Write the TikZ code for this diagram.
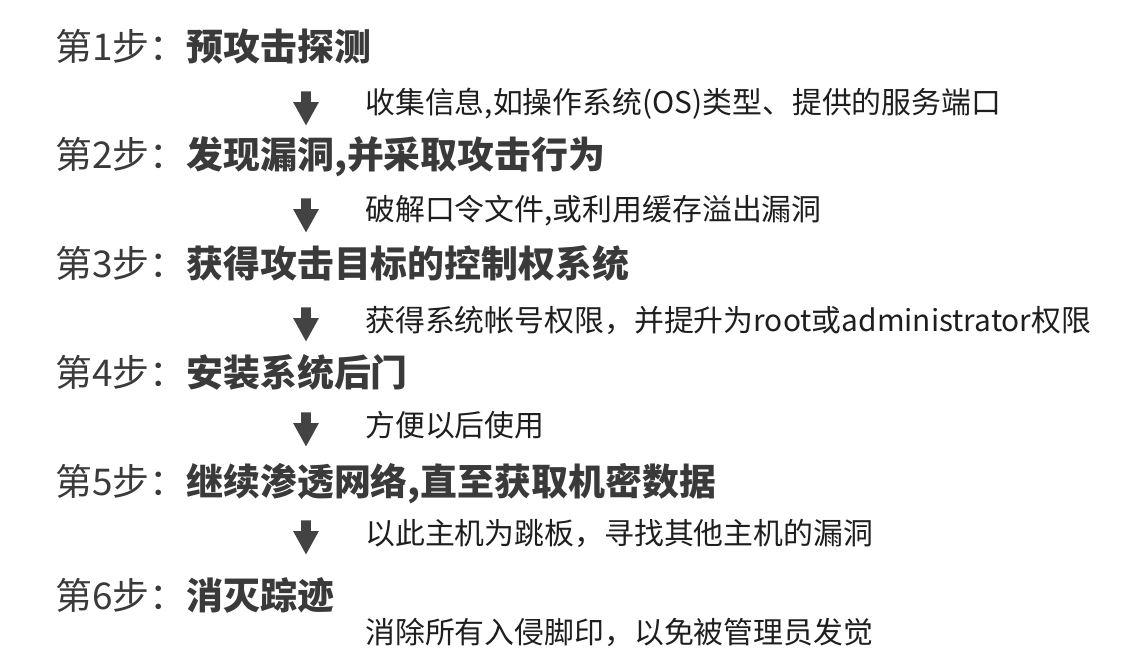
\documentclass[tikz,border=0pt]{standalone}
\usepackage{fontspec}
\setmainfont{Noto Sans CJK SC}
\usetikzlibrary{shapes.arrows}
\definecolor{titlegray}{HTML}{3A3A3A}
\definecolor{notegray}{HTML}{1E1E1E}
\definecolor{arrowgray}{HTML}{434343}

\begin{document}
\begin{tikzpicture}[
    x=0.02cm, y=-0.02cm,
    every node/.style={inner sep=0pt, anchor=west},
    steptitle/.style={font=\fontsize{21pt}{25pt}\selectfont, text=titlegray},
    stepnote/.style={font=\fontsize{17pt}{20pt}\selectfont, text=notegray},
    downarrow/.style={shape=single arrow, fill=arrowgray, anchor=center,
        shape border rotate=270, inner sep=0.09cm, minimum height=0.68cm,
        single arrow head extend=0.16cm, single arrow tip angle=58}
]
    \useasboundingbox (0,0) rectangle (1133,665);

    % Steps
    \node[steptitle] (s1) at (55,47)  {第1步：\textbf{预攻击探测}};
    \node[steptitle] (s2) at (55,157) {第2步：\textbf{发现漏洞,并采取攻击行为}};
    \node[steptitle] (s3) at (55,263) {第3步：\textbf{获得攻击目标的控制权系统}};
    \node[steptitle] (s4) at (55,372) {第4步：\textbf{安装系统后门}};
    \node[steptitle] (s5) at (55,484) {第5步：\textbf{继续渗透网络,直至获取机密数据}};
    \node[steptitle] (s6) at (55,595) {第6步：\textbf{消灭踪迹}};

    % Arrows between steps
    \node[downarrow] (a1) at (306,104) {};
    \node[downarrow] (a2) at (306,211) {};
    \node[downarrow] (a3) at (306,320) {};
    \node[downarrow] (a4) at (306,425) {};
    \node[downarrow] (a5) at (306,533) {};

    % Notes
    \node[stepnote] (n1) at (365,104) {收集信息,如操作系统(OS)类型、提供的服务端口};
    \node[stepnote] (n2) at (365,211) {破解口令文件,或利用缓存溢出漏洞};
    \node[stepnote] (n3) at (365,320) {获得系统帐号权限，并提升为root或administrator权限};
    \node[stepnote] (n4) at (365,425) {方便以后使用};
    \node[stepnote] (n5) at (365,533) {以此主机为跳板，寻找其他主机的漏洞};
    \node[stepnote] (n6) at (365,632) {消除所有入侵脚印，以免被管理员发觉};
\end{tikzpicture}
\end{document}
